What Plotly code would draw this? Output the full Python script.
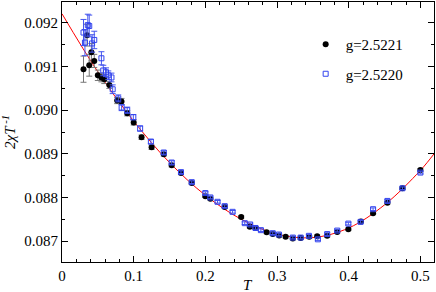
import plotly.graph_objects as go

# black series g=2.5221
T_a = [0.030, 0.035, 0.038, 0.041, 0.045, 0.050, 0.055, 0.059, 0.066, 0.077,
       0.083, 0.091, 0.100, 0.111, 0.125, 0.142, 0.153, 0.166, 0.181, 0.200,
       0.207, 0.227, 0.250, 0.262, 0.270, 0.2855, 0.294, 0.303, 0.312, 0.322,
       0.333, 0.345, 0.356, 0.370, 0.384, 0.3995, 0.417, 0.434, 0.454, 0.475, 0.500]
Y_a = [0.09094, 0.09172, 0.09103, 0.09133, 0.09113, 0.09080, 0.09075, 0.09071, 0.09058, 0.09022,
       0.09020, 0.08993, 0.08972, 0.08938, 0.08915, 0.08899, 0.08874, 0.08856, 0.08833, 0.08803,
       0.08797, 0.08778, 0.08755, 0.08733, 0.08730, 0.08720, 0.08716, 0.08713, 0.08710, 0.08706,
       0.08707, 0.08710, 0.08711, 0.08712, 0.08721, 0.08727, 0.08745, 0.08764, 0.08788, 0.08821, 0.08863]
E_a = [0.00030, 0.00025, 0.00025, 0.00020, 0.00015, 0.00012, 0.00010, 0.00010, 0.00008, 0.00007,
       0.00007, 0.00006, 0.00006, 0.00005, 0.00005, 0.00004, 0.00004, 0.00003, 0.00003, 0.00003,
       0.00003, 0.00003, 0.00003, 0.00003, 0.00003, 0.00003, 0.00003, 0.00003, 0.00003, 0.00003,
       0.00003, 0.00003, 0.00003, 0.00003, 0.00003, 0.00003, 0.00003, 0.00003, 0.00003, 0.00003, 0.00003]

# blue series g=2.5220
T_b = [0.030, 0.032, 0.036, 0.038, 0.042, 0.045, 0.055, 0.0576, 0.0614, 0.0646,
       0.069, 0.0707, 0.0785, 0.0832, 0.091, 0.0995, 0.109, 0.124, 0.142, 0.153,
       0.166, 0.181, 0.200, 0.207, 0.217, 0.227, 0.238, 0.255, 0.2625, 0.270,
       0.2775, 0.294, 0.3026, 0.322, 0.333, 0.3445, 0.357, 0.370, 0.384, 0.3995,
       0.4166, 0.434, 0.454, 0.475, 0.500]
Y_b = [0.09178, 0.09155, 0.09195, 0.09193, 0.09153, 0.09161, 0.09119, 0.09091, 0.09087, 0.09080,
       0.09075, 0.09048, 0.09027, 0.09006, 0.09000, 0.08984, 0.08958, 0.08928, 0.08903, 0.08880,
       0.08858, 0.08835, 0.08810, 0.08800, 0.08790, 0.08780, 0.08767, 0.08741, 0.08738, 0.08730,
       0.08725, 0.08718, 0.08715, 0.08708, 0.08708, 0.08712, 0.08704, 0.08716, 0.08724, 0.08740,
       0.08744, 0.08773, 0.08792, 0.08821, 0.08857]
E_b = [0.00030, 0.00030, 0.00025, 0.00025, 0.00020, 0.00020, 0.00015, 0.00012, 0.00010, 0.00010,
       0.00010, 0.00010, 0.00008, 0.00007, 0.00007, 0.00006, 0.00006, 0.00005, 0.00004, 0.00004,
       0.00003, 0.00003, 0.00003, 0.00003, 0.00003, 0.00003, 0.00003, 0.00003, 0.00003, 0.00003,
       0.00003, 0.00003, 0.00003, 0.00003, 0.00003, 0.00003, 0.00003, 0.00003, 0.00003, 0.00003,
       0.00003, 0.00003, 0.00003, 0.00003, 0.00003]

# red fit curve
T_fit = [0.0, 0.05, 0.10, 0.15, 0.20, 0.25, 0.30, 0.35, 0.40, 0.45, 0.50, 0.52]
Y_fit = [0.09221, 0.09088, 0.08975, 0.08880, 0.08805, 0.08750, 0.08716, 0.08708,
         0.08730, 0.08783, 0.08862, 0.08902]

X_TICKS = [0, 0.1, 0.2, 0.3, 0.4, 0.5]
X_TICKTEXT = ["0", "0.1", "0.2", "0.3", "0.4", "0.5"]
Y_TICKS = [0.087, 0.088, 0.089, 0.090, 0.091, 0.092]
Y_TICKTEXT = ["0.087", "0.088", "0.089", "0.090", "0.091", "0.092"]

FONT = "Liberation Serif, serif"

fig = go.Figure()
fig.add_trace(go.Scatter(x=T_fit, y=Y_fit, mode="lines", line=dict(color="red", width=1, shape="spline"),
                         showlegend=False, hoverinfo="skip"))
fig.add_trace(go.Scatter(x=T_a, y=Y_a, mode="markers", name="g=2.5221", legendgroup="a",
                         marker=dict(symbol="circle", size=6, color="black"),
                         error_y=dict(type="data", array=E_a, color="#777777", thickness=1, width=3)))
fig.add_trace(go.Scatter(x=T_b, y=Y_b, mode="markers", name="g=2.5220", legendgroup="b",
                         marker=dict(symbol="square-open", size=5, color="#3344ee", line=dict(width=1)),
                         error_y=dict(type="data", array=E_b, color="#4455ee", thickness=1, width=3)))

axis_common = dict(showline=True, linecolor="black", linewidth=1, mirror="ticks",
                   ticks="inside", ticklen=6, tickwidth=1, tickcolor="black",
                   showgrid=False, zeroline=False, automargin=False,
                   tickfont=dict(family=FONT, size=15, color="black"))

fig.update_xaxes(range=[0, 0.519], tickmode="array", tickvals=X_TICKS, ticktext=X_TICKTEXT,
                 minor=dict(tick0=0, dtick=0.02, ticks="inside", ticklen=3, tickcolor="black", showgrid=False),
                 **axis_common)
fig.update_yaxes(range=[0.08652, 0.09248], tickmode="array", tickvals=Y_TICKS, ticktext=Y_TICKTEXT,
                 minor=dict(tick0=0.087, dtick=0.0005, ticks="inside", ticklen=3, tickcolor="black", showgrid=False),
                 title=dict(text="<i>2χT<sup> -1</sup></i>", font=dict(family=FONT, size=15, color="black"), standoff=6),
                 **axis_common)

fig.update_layout(
    width=436, height=292,
    margin=dict(l=62, r=2, t=2, b=30),
    paper_bgcolor="white", plot_bgcolor="white",
    font=dict(family=FONT, size=14, color="black"),
    legend=dict(x=0.655, y=0.9, xanchor="left", yanchor="top",
                bgcolor="rgba(0,0,0,0)", font=dict(family=FONT, size=15, color="black"),
                tracegroupgap=7, itemwidth=30),
    annotations=[dict(text="<i>T</i>", xref="paper", yref="paper", x=0.5, y=-0.088,
                      xanchor="center", yanchor="middle", showarrow=False,
                      font=dict(family=FONT, size=15, color="black"))],
)

fig.write_html("out.html", config={"displayModeBar": False},
               post_script="document.body.style.margin='0px';")
